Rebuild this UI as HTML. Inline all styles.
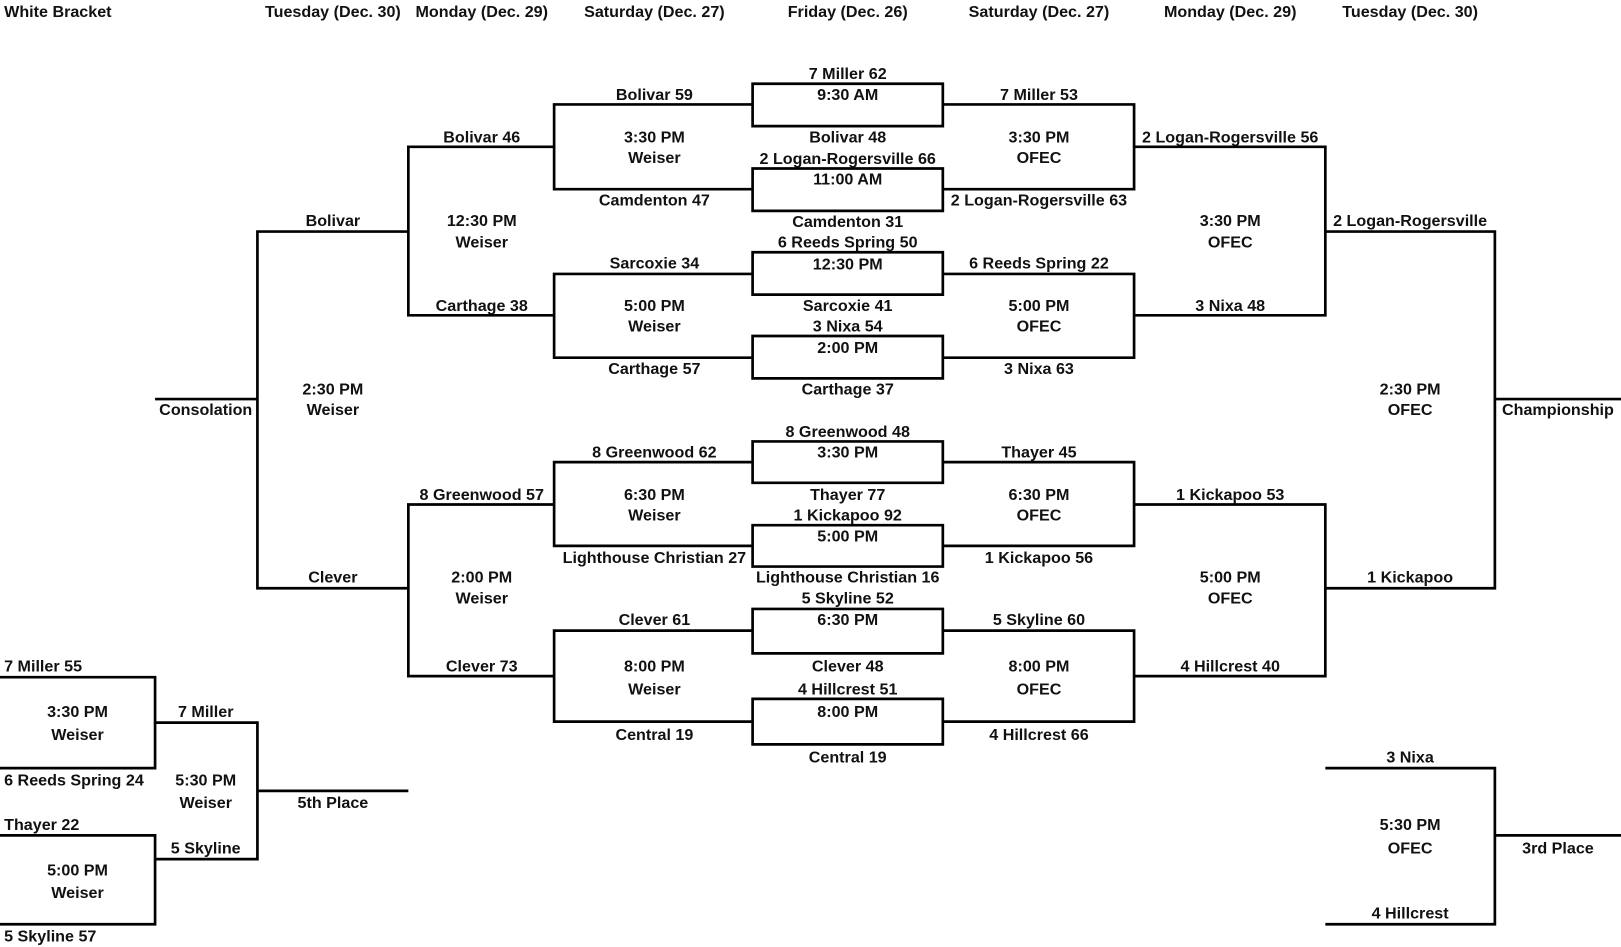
<!DOCTYPE html>
<html><head><meta charset="utf-8"><style>
html,body{margin:0;padding:0;background:#fff;}
svg{display:block;}
text{font-family:"Liberation Sans",Arial,sans-serif;font-weight:bold;font-size:15.6px;fill:#111;dominant-baseline:central;text-anchor:middle;}
.l{text-anchor:start;}
path,line{stroke:#000;stroke-width:2.6;fill:none;}
</style></head><body>
<svg width="1621" height="947" viewBox="0 0 1568 916" preserveAspectRatio="none">
<rect x="0" y="0" width="1568" height="916" fill="#fff" stroke="none"/>
<g transform="translate(0,0.8)">
<text class="l" x="4" y="11">White Bracket</text>
<text x="322" y="11">Tuesday (Dec. 30)</text>
<text x="466" y="11">Monday (Dec. 29)</text>
<text x="633" y="11">Saturday (Dec. 27)</text>
<text x="820" y="11">Friday (Dec. 26)</text>
<text x="1005" y="11">Saturday (Dec. 27)</text>
<text x="1190" y="11">Monday (Dec. 29)</text>
<text x="1364" y="11">Tuesday (Dec. 30)</text>

<text x="820" y="71">7 Miller 62</text><text x="820" y="91">9:30 AM</text><text x="820" y="132">Bolivar 48</text>
<text x="820" y="153">2 Logan-Rogersville 66</text><text x="820" y="173">11:00 AM</text><text x="820" y="214">Camdenton 31</text>
<text x="820" y="234">6 Reeds Spring 50</text><text x="820" y="255">12:30 PM</text><text x="820" y="295">Sarcoxie 41</text>
<text x="820" y="315">3 Nixa 54</text><text x="820" y="336">2:00 PM</text><text x="820" y="376">Carthage 37</text>
<text x="820" y="417">8 Greenwood 48</text><text x="820" y="437">3:30 PM</text><text x="820" y="478">Thayer 77</text>
<text x="820" y="498">1 Kickapoo 92</text><text x="820" y="518">5:00 PM</text><text x="820" y="558">Lighthouse Christian 16</text>
<text x="820" y="578">5 Skyline 52</text><text x="820" y="599">6:30 PM</text><text x="820" y="644">Clever 48</text>
<text x="820" y="666">4 Hillcrest 51</text><text x="820" y="688">8:00 PM</text><text x="820" y="732">Central 19</text>

<text x="633" y="91">Bolivar 59</text><text x="633" y="132">3:30 PM</text><text x="633" y="152">Weiser</text><text x="633" y="193">Camdenton 47</text>
<text x="633" y="254">Sarcoxie 34</text><text x="633" y="295">5:00 PM</text><text x="633" y="315">Weiser</text><text x="633" y="356">Carthage 57</text>
<text x="633" y="437">8 Greenwood 62</text><text x="633" y="478">6:30 PM</text><text x="633" y="498">Weiser</text><text x="633" y="539">Lighthouse Christian 27</text>
<text x="633" y="599">Clever 61</text><text x="633" y="644">8:00 PM</text><text x="633" y="666">Weiser</text><text x="633" y="710">Central 19</text>

<text x="1005" y="91">7 Miller 53</text><text x="1005" y="132">3:30 PM</text><text x="1005" y="152">OFEC</text><text x="1005" y="193">2 Logan-Rogersville 63</text>
<text x="1005" y="254">6 Reeds Spring 22</text><text x="1005" y="295">5:00 PM</text><text x="1005" y="315">OFEC</text><text x="1005" y="356">3 Nixa 63</text>
<text x="1005" y="437">Thayer 45</text><text x="1005" y="478">6:30 PM</text><text x="1005" y="498">OFEC</text><text x="1005" y="539">1 Kickapoo 56</text>
<text x="1005" y="599">5 Skyline 60</text><text x="1005" y="644">8:00 PM</text><text x="1005" y="666">OFEC</text><text x="1005" y="710">4 Hillcrest 66</text>

<text x="466" y="132">Bolivar 46</text><text x="466" y="213">12:30 PM</text><text x="466" y="234">Weiser</text><text x="466" y="295">Carthage 38</text>
<text x="466" y="478">8 Greenwood 57</text><text x="466" y="558">2:00 PM</text><text x="466" y="578">Weiser</text><text x="466" y="644">Clever 73</text>

<text x="1190" y="132">2 Logan-Rogersville 56</text><text x="1190" y="213">3:30 PM</text><text x="1190" y="234">OFEC</text><text x="1190" y="295">3 Nixa 48</text>
<text x="1190" y="478">1 Kickapoo 53</text><text x="1190" y="558">5:00 PM</text><text x="1190" y="578">OFEC</text><text x="1190" y="644">4 Hillcrest 40</text>

<text x="322" y="213">Bolivar</text><text x="322" y="376">2:30 PM</text><text x="322" y="396">Weiser</text><text x="322" y="558">Clever</text>
<text x="199" y="396">Consolation</text>
<text x="1364" y="213">2 Logan-Rogersville</text><text x="1364" y="376">2:30 PM</text><text x="1364" y="396">OFEC</text><text x="1364" y="558">1 Kickapoo</text>
<text x="1507" y="396">Championship</text>

<text class="l" x="4" y="644">7 Miller 55</text><text x="75" y="688">3:30 PM</text><text x="75" y="710">Weiser</text><text class="l" x="4" y="754">6 Reeds Spring 24</text>
<text class="l" x="4" y="797">Thayer 22</text><text x="75" y="841">5:00 PM</text><text x="75" y="863">Weiser</text><text class="l" x="4" y="905">5 Skyline 57</text>
<text x="199" y="688">7 Miller</text><text x="199" y="754">5:30 PM</text><text x="199" y="776">Weiser</text><text x="199" y="820">5 Skyline</text>
<text x="322" y="776">5th Place</text>

<text x="1364" y="732">3 Nixa</text><text x="1364" y="797">5:30 PM</text><text x="1364" y="820">OFEC</text><text x="1364" y="883">4 Hillcrest</text>
<text x="1507" y="820">3rd Place</text>
</g>

<path d="M728 81H912V122H728Z M728 163H912V204H728Z M728 244H912V285H728Z M728 325H912V366H728Z M728 427H912V467H728Z M728 508H912V548H728Z M728 589H912V632H728Z M728 676H912V720H728Z"/>
<path d="M728 101H536V183H728 M728 265H536V346H728 M728 447H536V528H728 M728 610H536V698H728"/>
<path d="M912 101H1097V183H912 M912 265H1097V346H912 M912 447H1097V528H912 M912 610H1097V698H912"/>
<path d="M536 142H395V305H536 M536 488H395V654H536"/>
<path d="M1097 142H1282V305H1097 M1097 488H1282V654H1097"/>
<path d="M395 224H249V569H395 M249 386H150"/>
<path d="M1282 224H1446V569H1282 M1446 386H1568"/>
<path d="M0 655H150V743H0 M0 808H150V894H0 M150 699H249V831H150 M249 765H395"/>
<path d="M1282 743H1446V894H1282 M1446 808H1568"/>
</svg>
</body></html>
